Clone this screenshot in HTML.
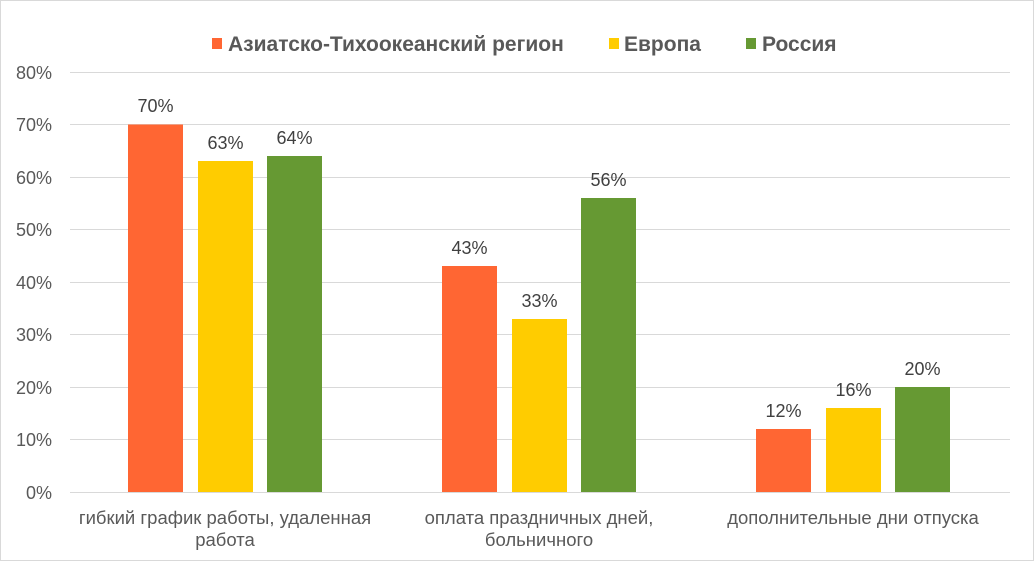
<!DOCTYPE html>
<html><head><meta charset="utf-8"><style>body{margin:0;background:#fff}svg{display:block}</style></head>
<body>
<svg width="1034" height="561" xmlns="http://www.w3.org/2000/svg" font-family="Liberation Sans, Arial, sans-serif">
<rect x="0.5" y="0.5" width="1033" height="560" fill="#fff" stroke="#d9d9d9"/>
<g stroke="#d9d9d9" stroke-width="1">
<line x1="70" x2="1010" y1="72.5" y2="72.5"/>
<line x1="70" x2="1010" y1="124.5" y2="124.5"/>
<line x1="70" x2="1010" y1="177.5" y2="177.5"/>
<line x1="70" x2="1010" y1="229.5" y2="229.5"/>
<line x1="70" x2="1010" y1="282.5" y2="282.5"/>
<line x1="70" x2="1010" y1="334.5" y2="334.5"/>
<line x1="70" x2="1010" y1="387.5" y2="387.5"/>
<line x1="70" x2="1010" y1="439.5" y2="439.5"/>
<line x1="70" x2="1010" y1="492.5" y2="492.5"/>
</g>
<g font-size="18" fill="#595959" text-anchor="end">
<text x="52" y="79">80%</text><text x="52" y="131">70%</text><text x="52" y="184">60%</text>
<text x="52" y="236">50%</text><text x="52" y="289">40%</text><text x="52" y="341">30%</text>
<text x="52" y="394">20%</text><text x="52" y="446">10%</text><text x="52" y="499">0%</text>
</g>
<g>
<rect x="128" y="124.5" width="55" height="367.5" fill="#FF6633"/>
<rect x="198" y="161" width="55" height="331" fill="#FFCC00"/>
<rect x="267" y="156" width="55" height="336" fill="#669933"/>
<rect x="442" y="266" width="55" height="226" fill="#FF6633"/>
<rect x="512" y="319" width="55" height="173" fill="#FFCC00"/>
<rect x="581" y="198" width="55" height="294" fill="#669933"/>
<rect x="756" y="429" width="55" height="63" fill="#FF6633"/>
<rect x="826" y="408" width="55" height="84" fill="#FFCC00"/>
<rect x="895" y="387" width="55" height="105" fill="#669933"/>
</g>
<g font-size="18" fill="#404040" text-anchor="middle">
<text x="155.5" y="112">70%</text><text x="225.5" y="149">63%</text><text x="294.5" y="144">64%</text>
<text x="469.5" y="254">43%</text><text x="539.5" y="307">33%</text><text x="608.5" y="186">56%</text>
<text x="783.5" y="417">12%</text><text x="853.5" y="396">16%</text><text x="922.5" y="375">20%</text>
</g>
<g font-size="18.5" fill="#595959" text-anchor="middle">
<text x="225" y="524">гибкий график работы, удаленная</text><text x="225" y="546">работа</text>
<text x="539" y="524">оплата праздничных дней,</text><text x="539" y="546">больничного</text>
<text x="853" y="524">дополнительные дни отпуска</text>
</g>
<g font-size="21" font-weight="bold" fill="#595959">
<rect x="212" y="38" width="10" height="11" fill="#FF6633"/><text x="228" y="51">Азиатско-Тихоокеанский регион</text>
<rect x="609" y="38" width="10" height="11" fill="#FFCC00"/><text x="624" y="51">Европа</text>
<rect x="746" y="38" width="10" height="11" fill="#669933"/><text x="762" y="51">Россия</text>
</g>
</svg>
</body></html>
